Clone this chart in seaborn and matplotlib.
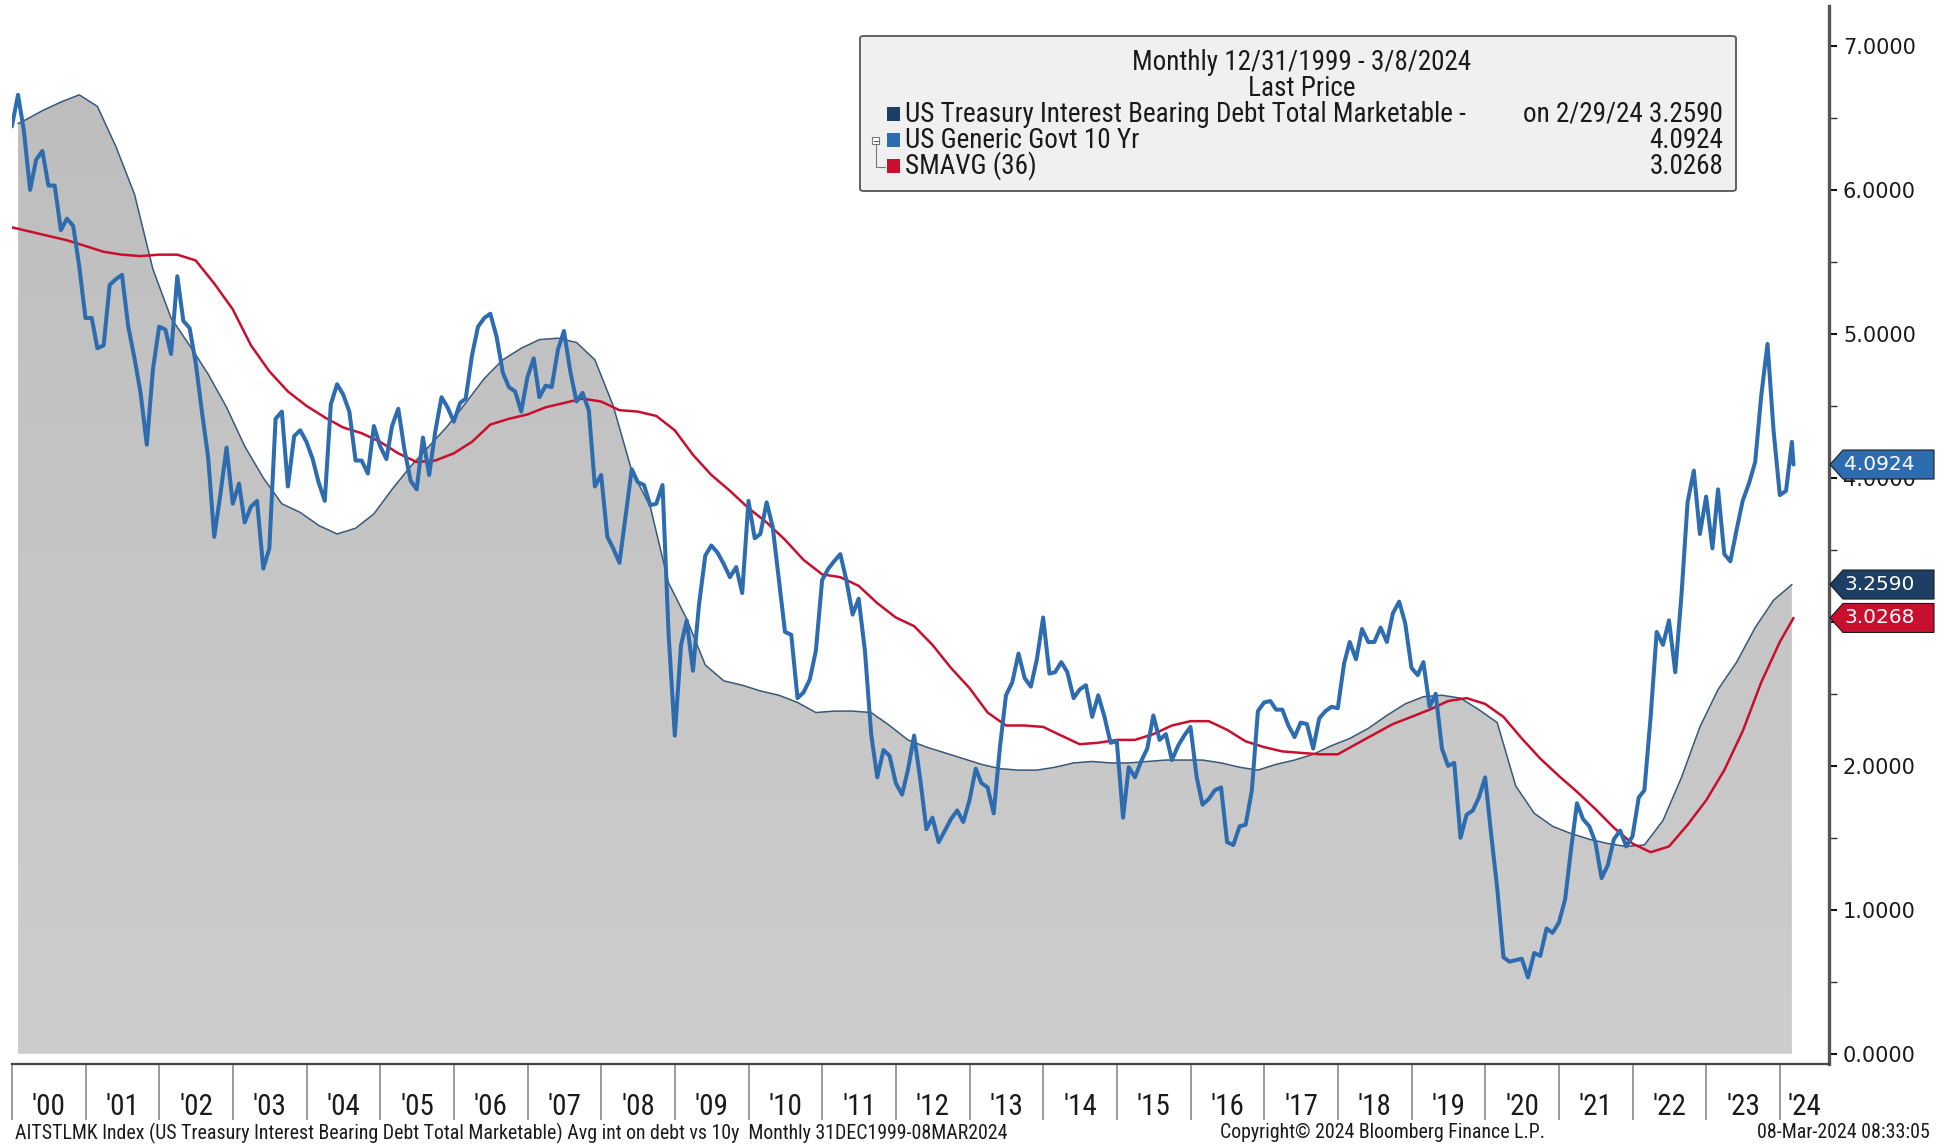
import numpy as np
import pandas as pd
import matplotlib
matplotlib.use("Agg")
import matplotlib.pyplot as plt
import seaborn as sns
from matplotlib import font_manager
from matplotlib.patches import Polygon, FancyBboxPatch, Rectangle
from matplotlib.lines import Line2D
from matplotlib.colors import LinearSegmentedColormap
import matplotlib.transforms as mtransforms

# ---------------- data ----------------
# US Generic Govt 10 Yr, month-end from 12/31/1999, last point 3/8/2024
ust10_values = [
    6.44,
    6.66, 6.41, 6.00, 6.21, 6.27, 6.03, 6.03, 5.72, 5.80, 5.75, 5.47, 5.11,
    5.11, 4.90, 4.92, 5.34, 5.38, 5.41, 5.05, 4.83, 4.59, 4.23, 4.75, 5.05,
    5.03, 4.86, 5.40, 5.09, 5.04, 4.80, 4.46, 4.14, 3.59, 3.89, 4.21, 3.82,
    3.96, 3.69, 3.80, 3.84, 3.37, 3.51, 4.41, 4.46, 3.94, 4.29, 4.33, 4.25,
    4.13, 3.97, 3.84, 4.51, 4.65, 4.58, 4.46, 4.12, 4.12, 4.03, 4.36, 4.22,
    4.13, 4.36, 4.48, 4.20, 3.98, 3.92, 4.28, 4.02, 4.32, 4.56, 4.49, 4.39,
    4.52, 4.55, 4.85, 5.05, 5.11, 5.14, 4.98, 4.73, 4.63, 4.60, 4.46, 4.70,
    4.83, 4.56, 4.64, 4.63, 4.89, 5.02, 4.74, 4.53, 4.59, 4.47, 3.94, 4.02,
    3.59, 3.51, 3.41, 3.73, 4.06, 3.97, 3.95, 3.81, 3.82, 3.95, 2.92, 2.21,
    2.84, 3.01, 2.66, 3.12, 3.46, 3.53, 3.48, 3.40, 3.31, 3.38, 3.20, 3.84,
    3.58, 3.61, 3.83, 3.66, 3.29, 2.93, 2.91, 2.47, 2.51, 2.60, 2.80, 3.29,
    3.37, 3.42, 3.47, 3.29, 3.05, 3.16, 2.80, 2.22, 1.92, 2.11, 2.07, 1.88,
    1.80, 1.97, 2.21, 1.91, 1.56, 1.64, 1.47, 1.55, 1.63, 1.69, 1.61, 1.76,
    1.98, 1.88, 1.85, 1.67, 2.13, 2.49, 2.58, 2.78, 2.61, 2.55, 2.74, 3.03,
    2.64, 2.65, 2.72, 2.65, 2.47, 2.53, 2.56, 2.34, 2.49, 2.34, 2.16, 2.17,
    1.64, 1.99, 1.92, 2.03, 2.12, 2.35, 2.18, 2.22, 2.04, 2.14, 2.21, 2.27,
    1.92, 1.73, 1.77, 1.83, 1.85, 1.47, 1.45, 1.58, 1.59, 1.83, 2.38, 2.44,
    2.45, 2.39, 2.39, 2.28, 2.20, 2.30, 2.29, 2.12, 2.33, 2.38, 2.41, 2.40,
    2.71, 2.86, 2.74, 2.95, 2.86, 2.86, 2.96, 2.86, 3.06, 3.14, 2.99, 2.68,
    2.63, 2.72, 2.41, 2.50, 2.12, 2.00, 2.02, 1.50, 1.66, 1.69, 1.78, 1.92,
    1.51, 1.15, 0.67, 0.64, 0.65, 0.66, 0.53, 0.70, 0.68, 0.87, 0.84, 0.91,
    1.07, 1.40, 1.74, 1.63, 1.58, 1.47, 1.22, 1.31, 1.49, 1.55, 1.44, 1.51,
    1.78, 1.83, 2.34, 2.93, 2.84, 3.01, 2.65, 3.19, 3.83, 4.05, 3.61, 3.87,
    3.51, 3.92, 3.47, 3.42, 3.64, 3.84, 3.96, 4.11, 4.57, 4.93, 4.33, 3.88,
    3.91, 4.25,
    4.0924,
]

# US Treasury interest bearing debt total marketable (avg rate), Jan 2000 then every 3 months Feb 2000 .. Feb 2024
debt_values = [
    6.46,
    6.48, 6.55, 6.61, 6.66, 6.58, 6.30, 5.97, 5.45, 5.11, 4.92,
    4.72, 4.49, 4.22, 4.00, 3.82, 3.76, 3.67, 3.61, 3.65, 3.75,
    3.92, 4.08, 4.22, 4.36, 4.52, 4.69, 4.82, 4.90, 4.96, 4.97,
    4.94, 4.82, 4.50, 4.05, 3.80, 3.27, 3.02, 2.70, 2.59, 2.56,
    2.52, 2.49, 2.44, 2.37, 2.38, 2.38, 2.37, 2.28, 2.18, 2.13,
    2.09, 2.05, 2.01, 1.98, 1.97, 1.97, 1.99, 2.02, 2.03, 2.02,
    2.02, 2.03, 2.04, 2.04, 2.04, 2.02, 1.99, 1.97, 2.01, 2.04,
    2.08, 2.14, 2.19, 2.26, 2.35, 2.43, 2.48, 2.49, 2.47, 2.39,
    2.30, 1.86, 1.67, 1.58, 1.53, 1.49, 1.46, 1.44, 1.45, 1.62,
    1.92, 2.27, 2.53, 2.72, 2.96, 3.15, 3.259,
]

# SMAVG (36) of the 10Y, quarterly Dec 1999 .. Dec 2023, then 3/8/2024
smavg_values = [
    5.74, 5.71, 5.68, 5.65, 5.61, 5.57, 5.55, 5.54, 5.55, 5.55,
    5.51, 5.35, 5.17, 4.92, 4.74, 4.60, 4.50, 4.42, 4.35, 4.31,
    4.25, 4.17, 4.11, 4.12, 4.17, 4.25, 4.37, 4.41, 4.44, 4.49,
    4.52, 4.55, 4.53, 4.47, 4.46, 4.43, 4.33, 4.16, 4.02, 3.91,
    3.79, 3.69, 3.57, 3.43, 3.33, 3.31, 3.25, 3.13, 3.03, 2.97,
    2.84, 2.68, 2.54, 2.37, 2.28, 2.28, 2.27, 2.21, 2.15, 2.16,
    2.18, 2.18, 2.22, 2.28, 2.31, 2.31, 2.25, 2.17, 2.13, 2.10,
    2.09, 2.08, 2.08, 2.15, 2.22, 2.29, 2.34, 2.39, 2.45, 2.47,
    2.43, 2.34, 2.19, 2.05, 1.93, 1.82, 1.70, 1.57, 1.46, 1.40,
    1.44, 1.59, 1.76, 1.97, 2.24, 2.58, 2.86,
    3.0268,
]

year_labels = ["'00", "'01", "'02", "'03", "'04", "'05", "'06", "'07", "'08", "'09",
               "'10", "'11", "'12", "'13", "'14", "'15", "'16", "'17", "'18", "'19",
               "'20", "'21", "'22", "'23", "'24"]
legend_title = ["Monthly 12/31/1999 - 3/8/2024", "Last Price"]
legend_names = ["US Treasury Interest Bearing Debt Total Marketable -", "US Generic Govt 10 Yr", "SMAVG (36)"]
legend_values = ["on 2/29/24 3.2590", "4.0924", "3.0268"]
tag_labels = ["4.0924", "3.2590", "3.0268"]
tag_levels = [4.0924, 3.2590, 3.0268]

# ---------------- dates ----------------
try:
    month_ends = pd.date_range("1999-12-31", periods=291, freq="ME")
except Exception:
    month_ends = pd.date_range("1999-12-31", periods=291, freq="M")
all_dates = list(month_ends) + [pd.Timestamp("2024-03-08")]


def dec_year(ts):
    a = pd.Timestamp(year=ts.year, month=1, day=1)
    b = pd.Timestamp(year=ts.year + 1, month=1, day=1)
    return ts.year + (ts - a) / (b - a)


t_all = np.array([dec_year(d) for d in all_dates])
debt_idx = [1] + list(range(2, 291, 3))
smavg_idx = list(range(0, 292, 3))
t_debt = t_all[debt_idx]
t_smavg = t_all[smavg_idx]

df10 = pd.DataFrame({"t": t_all, "v": ust10_values})
dfdebt = pd.DataFrame({"t": t_debt, "v": debt_values})
dfsma = pd.DataFrame({"t": t_smavg, "v": smavg_values})

# ---------------- fonts ----------------
sns.set_style("white")
names = {f.name for f in font_manager.fontManager.ttflist}
cond = None
for fam in ["Liberation Sans Narrow", "Roboto Condensed", "Open Sans Condensed"]:
    if fam in names:
        cond = fam
        break
if cond is None:
    cond = "DejaVu Sans"
    cond_scale = 0.80
else:
    cond_scale = 1.0
plt.rcParams["font.family"] = ["DejaVu Sans"]

W, H = 1944, 1144
fig = plt.figure(figsize=(W / 100, H / 100), dpi=100)
fig.patch.set_facecolor("white")


def fx(x):
    return x / W


def fy(y):
    return 1 - y / H


ax_l, ax_r, ax_t, ax_b = 12, 1829, 6, 1064
ax = fig.add_axes([fx(ax_l), fy(ax_b), (ax_r - ax_l) / W, (ax_b - ax_t) / H])
ax.set_facecolor("white")
XMIN, XMAX = 2000.0, 2024.665
YMIN, YMAX = -0.071, 7.277

navy = "#1d3f66"
blue = "#2e6cb0"
red = "#c8102e"

# gray area with slight vertical gradient
poly = ax.fill_between(dfdebt["t"], 0, dfdebt["v"], color="none", lw=0, zorder=1)
grad = np.linspace(0, 1, 256).reshape(-1, 1)
cmap = LinearSegmentedColormap.from_list("g", ["#cdcdcd", "#bdbdbd"])
im = ax.imshow(grad, extent=[XMIN, XMAX, 0, 7], aspect="auto", cmap=cmap,
               origin="lower", zorder=1, interpolation="bilinear")
im.set_clip_path(poly.get_paths()[0], transform=ax.transData)

sns.lineplot(data=dfdebt, x="t", y="v", ax=ax, color="#3a5878", lw=1.1,
             estimator=None, sort=False, zorder=2)
sns.lineplot(data=dfsma, x="t", y="v", ax=ax, color=red, lw=1.8,
             estimator=None, sort=False, zorder=3)
sns.lineplot(data=df10, x="t", y="v", ax=ax, color=blue, lw=2.9,
             estimator=None, sort=False, zorder=4)

ax.set_xlim(XMIN, XMAX)
ax.set_ylim(YMIN, YMAX)
ax.set_xlabel("")
ax.set_ylabel("")

for s in ["top", "left"]:
    ax.spines[s].set_visible(False)
ax.spines["bottom"].set_color("#444444")
ax.spines["bottom"].set_linewidth(1.6)
ax.spines["right"].set_color("#555555")
ax.spines["right"].set_linewidth(2.4)

# x ticks: separators at year boundaries, labels centered in each year
years = np.arange(2000, 2025)
ax.set_xticks(years)
ax.set_xticklabels([""] * len(years))
mids = [(y + min(y + 1, XMAX)) / 2 for y in years]
ax.set_xticks(mids, minor=True)
ax.set_xticklabels(year_labels, minor=True)
ax.tick_params(axis="x", which="major", direction="out", length=40, width=1.2,
               color="#8a8a8a", bottom=True)
ax.tick_params(axis="x", which="minor", length=0, pad=21, labelsize=21 * cond_scale,
               labelcolor="#1a1a1a")
for lab in ax.get_xticklabels(minor=True):
    lab.set_fontfamily(cond)

# y ticks on right
ax.yaxis.tick_right()
ax.set_yticks(np.arange(0, 8, 1))
ax.set_yticklabels([f"{v:.4f}" for v in np.arange(0, 8, 1)])
ax.set_yticks(np.arange(0.5, 7.5, 1), minor=True)
ax.tick_params(axis="y", which="major", direction="out", length=6, width=1.5,
               color="#111111", labelsize=15, pad=4, labelcolor="#1a1a1a",
               right=True, left=False)
ax.tick_params(axis="y", which="minor", direction="out", length=6, width=1.0,
               color="#333333", right=True, left=False)

# value tags on the right axis
bt = mtransforms.blended_transform_factory(ax.transAxes, ax.transData)
aw = ax_r - ax_l
hh = 14.5 / 144.0
for lvl, lab, col in zip(tag_levels, tag_labels, [blue, navy, red]):
    x0 = (1830 - ax_l) / aw
    x1 = (1843 - ax_l) / aw
    x2 = (1934 - ax_l) / aw
    pts = [(x0, lvl), (x1, lvl + hh), (x2, lvl + hh), (x2, lvl - hh), (x1, lvl - hh)]
    pg = Polygon(pts, closed=True, transform=bt, facecolor=col, edgecolor="#1a1a1a",
                 lw=0.8, clip_on=False, zorder=10)
    ax.add_patch(pg)
    ax.text((1844 - ax_l) / aw, lvl, lab, transform=bt, color="white", fontsize=14.5,
            va="center", ha="left", zorder=11, clip_on=False)

# legend box
lb = FancyBboxPatch((fx(860), fy(191)), fx(1736) - fx(860), fy(36) - fy(191),
                    boxstyle="round,pad=0,rounding_size=0.002", transform=fig.transFigure,
                    facecolor="#f0f0f0", edgecolor="#555555", lw=1.3, zorder=20)
fig.add_artist(lb)
lfs = 19.5 * cond_scale
fig.text(fx(1302), fy(62), legend_title[0], ha="center", va="center", fontsize=lfs,
         family=cond, color="#1a1a1a", zorder=21)
fig.text(fx(1302), fy(88), legend_title[1], ha="center", va="center", fontsize=lfs,
         family=cond, color="#1a1a1a", zorder=21)
row_y = [114, 140, 166]
for yy, nm, vv, col in zip(row_y, legend_names, legend_values, [navy, blue, red]):
    fig.add_artist(Rectangle((fx(887), fy(yy + 7)), fx(13), 14 / H, transform=fig.transFigure,
                             facecolor=col, edgecolor="none", zorder=21))
    fig.text(fx(905), fy(yy), nm, ha="left", va="center", fontsize=lfs, family=cond,
             color="#1a1a1a", zorder=21)
    fig.text(fx(1723), fy(yy), vv, ha="right", va="center", fontsize=lfs, family=cond,
             color="#1a1a1a", zorder=21)
# tree glyph
fig.add_artist(Rectangle((fx(872), fy(144)), fx(7), 7 / H, transform=fig.transFigure,
                         facecolor="white", edgecolor="#777777", lw=0.8, zorder=21))
fig.add_artist(Line2D([fx(873.5), fx(877.5)], [fy(140.5), fy(140.5)], transform=fig.transFigure,
                      color="#555555", lw=0.8, zorder=22))
fig.add_artist(Line2D([fx(875.5), fx(875.5), fx(885)], [fy(144), fy(167), fy(167)],
                      transform=fig.transFigure, color="#777777", lw=0.8, zorder=21))

# footer
ffs = 14.3 * cond_scale
fig.text(fx(15), fy(1133), "AITSTLMK Index (US Treasury Interest Bearing Debt Total Marketable) Avg int on debt vs 10y  Monthly 31DEC1999-08MAR2024",
         ha="left", va="center", fontsize=ffs, family=cond, color="#1a1a1a")
fig.text(fx(1382), fy(1133), "Copyright\u00a9 2024 Bloomberg Finance L.P.", ha="center", va="center",
         fontsize=ffs, family=cond, color="#1a1a1a")
fig.text(fx(1930), fy(1133), "08-Mar-2024 08:33:05", ha="right", va="center", fontsize=ffs,
         family=cond, color="#1a1a1a")

fig.savefig("out.png", dpi=100, facecolor="white")
